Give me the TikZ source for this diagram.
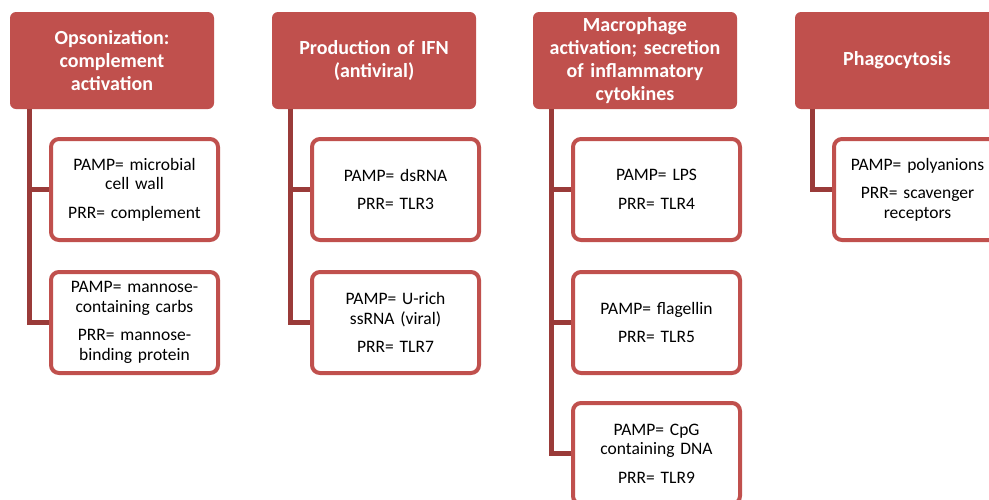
\documentclass[tikz,border=0pt]{standalone}
\usepackage{fontspec}
\setmainfont{Carlito}
\definecolor{accent}{HTML}{C0504D}
\definecolor{connc}{HTML}{9A3B39}
\tikzset{
  headbox/.style={fill=accent, rounded corners=6pt, minimum width=204pt, minimum height=97pt,
    text width=196pt, align=center, text=white, inner sep=0pt,
    font=\fontsize{20}{23}\selectfont\bfseries},
  childbox/.style={draw=accent, line width=4pt, fill=white, rounded corners=8pt,
    minimum width=167pt, minimum height=101pt, text width=163pt, align=center, inner sep=0pt,
    font=\fontsize{17.5}{19.5}\selectfont},
  conn/.style={draw=connc, line width=5pt}
}
\begin{document}
\begin{tikzpicture}[x=1pt,y=1pt]
\useasboundingbox (0,0) rectangle (989,-499);
\fill[white] (0,0) rectangle (989,-499);
\clip (0,0) rectangle (989,-499);

% headers
\node[headbox] (h1) at (112,-60.5) {Opsonization:\\complement\\activation};
\node[headbox] (h2) at (374,-60.5) {Production of IFN\\(antiviral)};
\node[headbox] (h3) at (635,-60.5) {Macrophage\\activation; secretion\\of inflammatory\\cytokines};
\node[headbox] (h4) at (897,-60.5) {Phagocytosis};

% connector tops
\coordinate (v1) at (29,-109);
\coordinate (v2) at (290,-109);
\coordinate (v3) at (551,-109);
\coordinate (v4) at (812,-109);

% children positions
\path
  (134.5,-189.5) coordinate (p1a)
  (134.5,-322.5) coordinate (p1b)
  (395.5,-189.5) coordinate (p2a)
  (395.5,-322.5) coordinate (p2b)
  (656.5,-189.5) coordinate (p3a)
  (656.5,-322.5) coordinate (p3b)
  (656.5,-453.5) coordinate (p3c)
  (917.5,-189.5) coordinate (p4a);

\node[childbox] (c1a) at (p1a) {PAMP= microbial\\cell wall\\[9pt]PRR= complement};
\node[childbox] (c1b) at (p1b) {PAMP= mannose-\\containing carbs\\[9pt]PRR= mannose-\\binding protein};
\node[childbox] (c2a) at (p2a) {PAMP= dsRNA\\[9pt]PRR= TLR3};
\node[childbox] (c2b) at (p2b) {PAMP= U-rich\\ssRNA (viral)\\[9pt]PRR= TLR7};
\node[childbox] (c3a) at (p3a) {PAMP= LPS\\[9pt]PRR= TLR4};
\node[childbox] (c3b) at (p3b) {PAMP= flagellin\\[9pt]PRR= TLR5};
\node[childbox] (c3c) at (p3c) {PAMP= CpG\\containing DNA\\[9pt]PRR= TLR9};
\node[childbox] (c4a) at (p4a) {PAMP= polyanions\\[9pt]PRR= scavenger\\receptors};

% connectors
\draw[conn] (v1) |- (c1b.west);
\draw[conn] (v1 |- c1a.west) -- (c1a.west);
\draw[conn] (v2) |- (c2b.west);
\draw[conn] (v2 |- c2a.west) -- (c2a.west);
\draw[conn] (v3) |- (c3c.west);
\draw[conn] (v3 |- c3a.west) -- (c3a.west);
\draw[conn] (v3 |- c3b.west) -- (c3b.west);
\draw[conn] (v4) |- (c4a.west);
\end{tikzpicture}
\end{document}
